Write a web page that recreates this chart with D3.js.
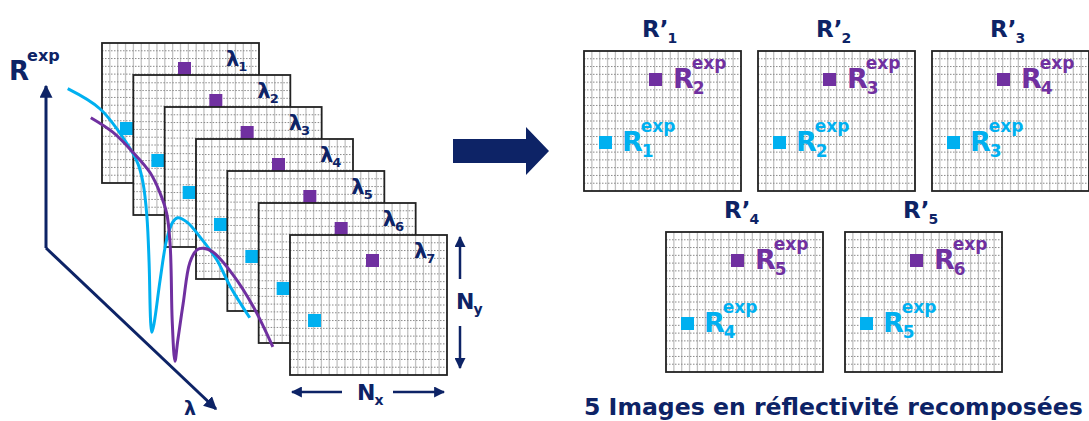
<!DOCTYPE html>
<html>
<head>
<meta charset="utf-8">
<script src="https://cdn.jsdelivr.net/npm/d3@7"></script>
<style>
  body { margin: 0; background: #fff; }
  text { font-family: "DejaVu Sans", Verdana, sans-serif; font-weight: bold; }
</style>
</head>
<body>
<div id="chart"></div>
<script>
// canvas
var w = 1089, h = 421;
var navy = "#0d2366", cyan = "#00b0f0", purple = "#7030a0";

// wavelengths of the stacked images
var wavelengths = ["1", "2", "3", "4", "5", "6", "7"];

// reflectivity spectra (lambda in nm, R normalised)
var cyanLambda = [414, 473, 522, 542, 551, 558, 562, 565, 567, 571, 582, 594, 605, 614, 631, 654, 685, 709, 745];
var cyanR      = [0.97, 0.90, 0.78, 0.71, 0.645, 0.53, 0.37, 0.16, 0.13, 0.16, 0.31, 0.45, 0.51, 0.525, 0.51, 0.46, 0.38, 0.29, 0.18];
var purpleLambda = [456, 496, 533, 564, 582, 594, 600, 602, 604, 609, 614, 624, 636, 649, 660, 678, 714, 751, 787];
var purpleR      = [0.87, 0.82, 0.75, 0.68, 0.61, 0.54, 0.44, 0.345, 0.17, 0.03, 0.10, 0.23, 0.37, 0.414, 0.42, 0.407, 0.33, 0.22, 0.08];

// recomposed images
var topPanels = ["1", "2", "3"];
var bottomPanels = ["4", "5"];
var panelCyanIdx   = {"1": "1", "2": "2", "3": "3", "4": "4", "5": "5"};
var panelPurpleIdx = {"1": "2", "2": "3", "3": "4", "4": "5", "5": "6"};

var titleText = "5 Images en réflectivité recomposées";

// frame size
var fw = 157, fh = 140, sq = 13;

var svg = d3.select("#chart").append("svg")
    .attr("width", w).attr("height", h);

// markers
var defs = svg.append("defs");
function marker(id, size) {
  defs.append("marker")
      .attr("id", id)
      .attr("viewBox", "0 0 10 10")
      .attr("refX", 9).attr("refY", 5)
      .attr("markerUnits", "userSpaceOnUse")
      .attr("markerWidth", size).attr("markerHeight", size)
      .attr("orient", "auto")
      .append("path").attr("d", "M0,0 L10,5 L0,10 z").attr("fill", navy);
}
marker("arrowBig", 13);
marker("arrowSmall", 11);

// text with sub / superscript
function label(g, x, y, base, sub, sup, size, color) {
  var t = g.append("text").attr("x", x).attr("y", y)
      .attr("font-size", size).attr("fill", color).text(base);
  var bw = t.node().getComputedTextLength();
  var s = Math.round(size * 0.62);
  if (sub) g.append("text").attr("x", x + bw - 1).attr("y", y + size * 0.24)
      .attr("font-size", s).attr("fill", color).text(sub);
  if (sup) g.append("text").attr("x", x + bw - 2).attr("y", y - size * 0.72)
      .attr("font-size", s).attr("fill", color).text(sup);
}

// dotted grid image
function drawGrid(g, x, y) {
  var nc = 20, nr = 18;
  var gx = d3.scaleLinear().domain([0, nc]).range([x, x + fw]);
  var gy = d3.scaleLinear().domain([0, nr]).range([y, y + fh]);
  g.append("rect").attr("x", x).attr("y", y).attr("width", fw).attr("height", fh).attr("fill", "#fff");
  g.selectAll(null).data(d3.range(1, nc)).enter().append("line")
      .attr("x1", function(d) { return gx(d); }).attr("x2", function(d) { return gx(d); })
      .attr("y1", y).attr("y2", y + fh)
      .attr("stroke", "#c2c2c2").attr("stroke-width", 1.3);
  g.selectAll(null).data(d3.range(1, nr)).enter().append("line")
      .attr("y1", function(d) { return gy(d); }).attr("y2", function(d) { return gy(d); })
      .attr("x1", x).attr("x2", x + fw)
      .attr("stroke", "#8a8a8a").attr("stroke-width", 1).attr("stroke-dasharray", "1.5,1.5");
  g.append("rect").attr("x", x).attr("y", y).attr("width", fw).attr("height", fh)
      .attr("fill", "none").attr("stroke", "#222").attr("stroke-width", 1.8);
}

// ---- left: stack of images ----
var xStack = d3.scalePoint().domain(wavelengths).range([102, 290]);
var yStack = d3.scalePoint().domain(wavelengths).range([43, 235]);

var stack = svg.append("g");
wavelengths.forEach(function(l) {
  var g = stack.append("g");
  var x = xStack(l), y = yStack(l);
  drawGrid(g, x, y);
  g.append("rect").attr("x", x + 76).attr("y", y + 19).attr("width", sq).attr("height", sq).attr("fill", purple);
  g.append("rect").attr("x", x + 18).attr("y", y + 79).attr("width", sq).attr("height", sq).attr("fill", cyan);
  label(g, x + 124, y + 23, "λ", l, null, 21, navy);
});

// axes of the spectrum sketch
var origin = [46, 248];
svg.append("line").attr("x1", origin[0]).attr("y1", origin[1]).attr("x2", origin[0]).attr("y2", 86)
    .attr("stroke", navy).attr("stroke-width", 3).attr("marker-end", "url(#arrowBig)");
svg.append("line").attr("x1", origin[0]).attr("y1", origin[1]).attr("x2", 216).attr("y2", 409)
    .attr("stroke", navy).attr("stroke-width", 3).attr("marker-end", "url(#arrowBig)");
label(svg, 9, 80, "R", null, "exp", 26, navy);
svg.append("text").attr("x", 184).attr("y", 415).attr("font-size", 19).attr("fill", navy).text("λ");

// spectra
var xScale = d3.scaleLinear().domain([400, 800]).range([60, 280]);
var yScale = d3.scaleLinear().domain([0, 1]).range([370, 80]);
var line = d3.line()
    .x(function(d) { return xScale(d[0]); })
    .y(function(d) { return yScale(d[1]); })
    .curve(d3.curveCatmullRom.alpha(0.5));

svg.append("path").datum(d3.zip(cyanLambda, cyanR)).attr("d", line)
    .attr("fill", "none").attr("stroke", cyan).attr("stroke-width", 3);
svg.append("path").datum(d3.zip(purpleLambda, purpleR)).attr("d", line)
    .attr("fill", "none").attr("stroke", purple).attr("stroke-width", 3);

// Nx / Ny
svg.append("line").attr("x1", 342).attr("y1", 392).attr("x2", 292).attr("y2", 392)
    .attr("stroke", navy).attr("stroke-width", 2.5).attr("marker-end", "url(#arrowSmall)");
svg.append("line").attr("x1", 393).attr("y1", 392).attr("x2", 444).attr("y2", 392)
    .attr("stroke", navy).attr("stroke-width", 2.5).attr("marker-end", "url(#arrowSmall)");
label(svg, 357, 400, "N", "x", null, 22, navy);
svg.append("line").attr("x1", 460).attr("y1", 279).attr("x2", 460).attr("y2", 237)
    .attr("stroke", navy).attr("stroke-width", 2.5).attr("marker-end", "url(#arrowSmall)");
svg.append("line").attr("x1", 460).attr("y1", 326).attr("x2", 460).attr("y2", 368)
    .attr("stroke", navy).attr("stroke-width", 2.5).attr("marker-end", "url(#arrowSmall)");
label(svg, 456, 309, "N", "y", null, 22, navy);

// big arrow
svg.append("path")
    .attr("d", "M453,139 L526,139 L526,127 L549,151 L526,175 L526,163 L453,163 Z")
    .attr("fill", navy);

// ---- right: recomposed images ----
var xTop = d3.scalePoint().domain(topPanels).range([584, 932]);
var xBottom = d3.scalePoint().domain(bottomPanels).range([666, 845]);

function drawPanel(p, x, y) {
  var g = svg.append("g");
  drawGrid(g, x, y);
  label(g, x + 58, y - 14, "R’", p, null, 23, navy);
  var px = x + 65, py = y + 22;
  g.append("rect").attr("x", px).attr("y", py).attr("width", sq).attr("height", sq).attr("fill", purple);
  label(g, px + 24, py + 15, "R", panelPurpleIdx[p], "exp", 27, purple);
  var cx = x + 15, cy = y + 85;
  g.append("rect").attr("x", cx).attr("y", cy).attr("width", sq).attr("height", sq).attr("fill", cyan);
  label(g, cx + 23, cy + 15, "R", panelCyanIdx[p], "exp", 27, cyan);
}
topPanels.forEach(function(p) { drawPanel(p, xTop(p), 51); });
bottomPanels.forEach(function(p) { drawPanel(p, xBottom(p), 232); });

// caption
var cap = svg.append("text").attr("x", 584).attr("y", 415).attr("fill", navy)
    .attr("font-size", 26).text(titleText);
var cw = cap.node().getComputedTextLength();
cap.attr("font-size", 26 * 499 / cw);
</script>
</body>
</html>
